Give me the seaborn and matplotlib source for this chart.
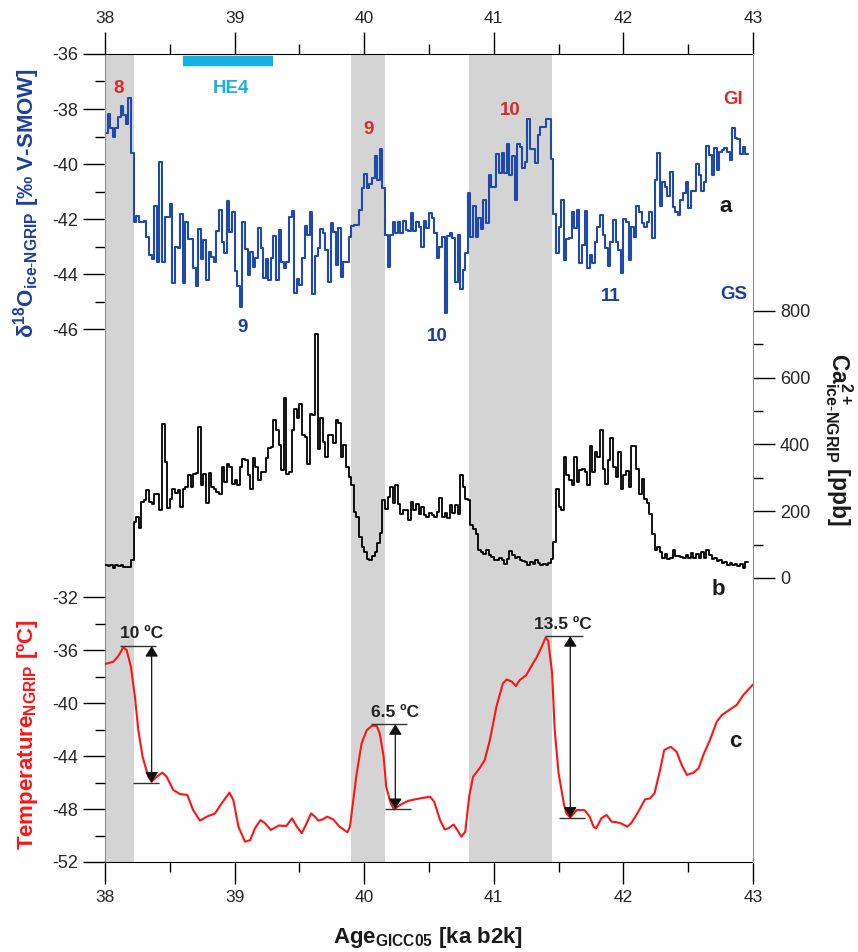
import numpy as np
import pandas as pd
import matplotlib
matplotlib.use('Agg')
import matplotlib.pyplot as plt
from matplotlib.ticker import FixedLocator, MultipleLocator
import seaborn as sns

sns.set_style('ticks')
plt.rcParams['font.family'] = ['Liberation Sans', 'DejaVu Sans']
plt.rcParams['mathtext.fontset'] = 'custom'
plt.rcParams['mathtext.rm'] = 'Liberation Sans'
plt.rcParams['mathtext.bf'] = 'Liberation Sans:bold'
plt.rcParams['mathtext.it'] = 'Liberation Sans:italic'
plt.rcParams['axes.unicode_minus'] = False

# ---- data ----
age_start = 38.0
step_ka = 0.02  # 20-yr resolution of the NGRIP records

# (a) NGRIP d18O, per-mil
d18o = [
    -38.88, -38.19, -38.70, -39.00, -38.70, -38.30, -37.88, -38.20, -38.56, -37.59,
    -39.61, -42.10, -41.88, -42.12, -42.12, -42.07, -42.64, -43.31, -43.45, -41.52,
    -43.55, -39.94, -43.55, -41.92, -41.92, -41.47, -44.32, -43.00, -43.07, -41.80,
    -44.34, -42.10, -42.73, -42.73, -43.77, -44.44, -42.36, -43.45, -42.77, -44.22,
    -43.19, -43.37, -43.55, -42.44, -41.67, -42.83, -43.25, -41.35, -42.46, -41.73,
    -43.89, -44.44, -45.19, -42.10, -43.10, -44.04, -43.19, -43.73, -43.43, -42.31,
    -43.04, -44.16, -43.45, -44.22, -43.40, -42.60, -44.22, -42.40, -43.55, -43.77,
    -43.55, -41.92, -41.70, -44.70, -44.18, -44.40, -43.43, -42.25, -42.58, -41.76,
    -44.72, -43.33, -43.04, -42.36, -42.52, -43.13, -44.28, -42.16, -42.46, -43.67,
    -42.34, -44.10, -43.55, -43.55, -42.64, -42.24, -42.22, -42.20, -41.67, -40.88,
    -40.38, -40.86, -40.74, -40.52, -39.70, -40.58, -39.45, -40.88, -42.58, -43.73,
    -42.58, -42.12, -42.52, -42.10, -42.52, -42.07, -42.40, -42.43, -41.79, -42.43,
    -42.12, -42.28, -43.03, -42.07, -42.31, -41.79, -41.97, -42.52, -43.43, -43.00,
    -42.64, -45.43, -42.61, -42.52, -42.70, -44.30, -42.58, -44.55, -43.85, -43.25,
    -41.07, -42.64, -41.52, -42.64, -41.97, -42.36, -41.31, -42.16, -40.40, -40.82,
    -40.82, -39.64, -40.34, -39.61, -40.34, -39.27, -40.40, -39.70, -41.31, -39.27,
    -39.39, -40.13, -39.91, -38.36, -39.45, -39.45, -39.97, -38.95, -38.65, -38.65,
    -38.36, -38.36, -39.82, -41.80, -43.25, -42.28, -41.31, -43.49, -42.73, -42.70,
    -41.76, -42.34, -41.67, -43.61, -42.95, -41.71, -43.77, -43.31, -43.61, -42.83,
    -42.28, -41.85, -42.58, -43.07, -43.71, -42.83, -42.04, -42.83, -43.13, -43.98,
    -42.00, -42.10, -43.49, -42.28, -42.64, -41.52, -41.76, -42.16, -42.28, -42.10,
    -41.76, -42.70, -40.58, -39.59, -41.52, -40.64, -40.82, -41.18, -40.30, -41.55,
    -41.73, -41.85, -41.31, -41.07, -40.64, -41.61, -40.98, -40.99, -40.00, -40.40,
    -40.99, -40.66, -39.35, -39.67, -40.40, -39.43, -40.22, -39.55, -39.49, -39.43,
    -39.55, -39.85, -38.70, -39.04, -39.09, -39.65, -39.37, -39.65,
]

# (b) NGRIP Ca2+, ppb
ca = [
    40, 36, 38, 31, 38, 35, 38, 33, 33, 33,
    55, 168, 183, 151, 228, 233, 263, 228, 221, 251,
    251, 203, 461, 348, 210, 238, 268, 255, 263, 213,
    268, 273, 308, 273, 311, 315, 453, 278, 313, 225,
    315, 273, 268, 258, 253, 333, 288, 343, 333, 281,
    295, 278, 333, 355, 353, 308, 268, 358, 333, 295,
    318, 318, 358, 390, 393, 473, 443, 398, 323, 538,
    313, 318, 443, 505, 478, 520, 428, 423, 343, 490,
    488, 731,
    385, 478, 408, 361, 428, 428, 405, 473, 463, 363,
    398, 333, 303, 278, 198, 183, 123, 93, 78, 58,
    53, 65, 78, 105, 135, 233, 208, 243, 273, 225,
    278, 223, 193, 205, 203, 175, 228, 203, 223, 193,
    213, 190, 183, 195, 190, 183, 198, 241, 183, 195,
    181, 218, 195, 218, 193, 308, 273, 238, 233, 158,
    148, 133, 85, 78, 73, 85, 68, 63, 53, 55,
    61, 55, 43, 58, 81, 68, 61, 63, 55, 51, 48, 38,
    48, 43, 53, 45, 38, 43, 38, 45, 58, 108,
    268, 213, 203, 363, 308, 293, 278, 361, 288, 323,
    328, 318, 278, 395, 318, 378, 363, 443, 328, 281,
    353, 418, 333, 303, 378, 268, 308, 321, 273, 395,
    395, 328, 251, 298, 238, 225, 193, 133, 83, 93,
    78, 61, 73, 58, 61, 83, 65, 65, 63, 61,
    68, 61, 75, 61, 73, 61, 78, 61, 83, 68,
    58, 61, 51, 55, 45, 48, 38, 45, 38, 43,
    35, 41, 31, 48,
]

# (c) NGRIP temperature, deg C
temp_age = [
    38.0, 38.064, 38.103, 38.141, 38.167, 38.20, 38.231, 38.257, 38.29, 38.334,
    38.36, 38.399, 38.442, 38.476, 38.527, 38.579, 38.635, 38.68, 38.733, 38.785,
    38.849, 38.90, 38.96, 38.99, 39.03, 39.08, 39.12, 39.157, 39.20, 39.235,
    39.28, 39.34, 39.40, 39.443, 39.48, 39.518, 39.556, 39.59, 39.62, 39.646,
    39.68, 39.715, 39.76, 39.81, 39.87, 39.89, 39.916, 39.942, 39.98, 40.02,
    40.06, 40.096, 40.12, 40.15, 40.17, 40.205, 40.23, 40.276, 40.34, 40.43,
    40.508, 40.54, 40.585, 40.62, 40.65, 40.69, 40.71, 40.75, 40.78, 40.81,
    40.84, 40.89, 40.93, 40.97, 41.02, 41.07, 41.10, 41.14, 41.17, 41.20,
    41.25, 41.29, 41.33, 41.37, 41.40, 41.42, 41.45, 41.47, 41.50, 41.54,
    41.56, 41.59, 41.64, 41.70, 41.74, 41.77, 41.79, 41.83, 41.87, 41.91,
    41.95, 41.98, 42.03, 42.06, 42.115, 42.167, 42.205, 42.24, 42.28, 42.315,
    42.365, 42.41, 42.45, 42.49, 42.54, 42.58, 42.617, 42.668, 42.72, 42.76,
    42.835, 42.874, 42.925, 43.0,
]
temp_val = [
    -37.06, -36.88, -36.45, -35.79, -36.00, -37.26, -39.53, -42.04, -44.05, -45.56,
    -45.94, -45.56, -45.26, -45.56, -46.57, -46.87, -46.94, -48.08, -48.88, -48.58,
    -48.33, -47.57, -46.77, -47.32, -49.34, -50.47, -50.35, -49.46, -48.83, -49.08,
    -49.58, -49.25, -49.28, -48.70, -49.33, -49.83, -49.08, -48.33, -48.58, -48.88,
    -48.78, -48.58, -48.78, -49.33, -49.76, -49.33, -47.32, -45.31, -43.05, -42.04,
    -41.72, -41.72, -42.30, -44.05, -46.32, -47.57, -48.03, -47.70, -47.38, -47.20,
    -47.07, -47.45, -48.83, -49.53, -49.46, -49.17, -49.46, -50.09, -49.71, -47.07,
    -45.56, -44.93, -44.30, -42.79, -40.28, -38.52, -38.22, -38.39, -38.72, -38.27,
    -37.89, -37.21, -36.56, -35.75, -35.05, -35.30, -37.76, -42.04, -45.31, -47.57,
    -48.33, -48.64, -48.08, -48.08, -48.58, -49.34, -49.46, -48.70, -48.45, -48.96,
    -49.00, -49.08, -49.33, -49.08, -48.21, -47.27, -47.20, -46.82, -45.19, -43.55,
    -43.30, -43.67, -44.68, -45.43, -45.26, -44.93, -43.92, -42.79, -41.41, -40.91,
    -40.40, -40.15, -39.40, -38.60,
]

# Greenland interstadials (shaded) and Heinrich event 4
gi_start = [38.0, 39.9, 40.81]
gi_end = [38.22, 40.16, 41.45]
he4_start, he4_end = 38.6, 39.3

# temperature jumps: warm peak, cold base, arrow position, label
jump_peak = [-35.7, -41.6, -34.95]
jump_base = [-46.0, -48.0, -48.65]
jump_age = [38.36, 40.24, 41.59]
jump_labels = ['10 ºC', '6.5 ºC', '13.5 ºC']

blue = '#1b3f9c'
line_blue = '#1f4aab'
red_lab = '#dc2a2a'
red_line = '#ff1414'
cyan = '#14b1e1'

# step series tables
age_grid = age_start + step_ka * np.arange(len(d18o) + 1)
d18o_df = pd.DataFrame({'age': age_grid, 'value': d18o + [d18o[-1]]})
age_grid_ca = age_start + step_ka * np.arange(len(ca) + 1)
ca_df = pd.DataFrame({'age': age_grid_ca, 'value': ca + [ca[-1]]})
temp_df = pd.DataFrame({'age': temp_age, 'value': temp_val})

fig = plt.figure(figsize=(8.58, 9.52), dpi=100)
ax = fig.add_axes([0.12238, 0.09454, 0.75524, 0.84874])
ax_ca = ax.twinx()
ax_t = ax.twinx()

# shading
for s, e in zip(gi_start, gi_end):
    ax.axvspan(s, e, color='#d4d4d4', lw=0, zorder=0)

sns.lineplot(data=d18o_df, x='age', y='value', drawstyle='steps-post', color=line_blue,
             lw=1.5, errorbar=None, ax=ax)
sns.lineplot(data=ca_df, x='age', y='value', drawstyle='steps-post', color='black',
             lw=1.3, errorbar=None, ax=ax_ca)
sns.lineplot(data=temp_df, x='age', y='value', color=red_line, lw=1.5, errorbar=None, ax=ax_t)

ax.hlines(-36.25, he4_start, he4_end, color=cyan, lw=7.5, zorder=3)

ax.set_xlim(38, 43)
ax.set_ylim(-65.38, -36)
ax_ca.set_ylim(-851, 1570)
ax_t.set_ylim(-52, 9)
for a in (ax, ax_ca, ax_t):
    a.set_xlabel('')
    a.set_ylabel('')

# spines
ax.spines['top'].set_color('black')
ax.spines['bottom'].set_color('black')
ax.spines['left'].set_color('#8c8c8c')
ax.spines['right'].set_visible(False)
for s in ['left', 'top', 'bottom']:
    ax_ca.spines[s].set_visible(False)
ax_ca.spines['right'].set_color('#8c8c8c')
for s in ax_t.spines.values():
    s.set_visible(False)

# ticks
ax.xaxis.set_major_locator(MultipleLocator(1))
ax.xaxis.set_minor_locator(MultipleLocator(0.5))
ax.tick_params(axis='x', which='both', direction='out', top=True, labeltop=True,
               bottom=True, labelbottom=True, labelsize=12.5, pad=5, color='black')
ax.tick_params(axis='x', which='major', length=15.5, width=1)
ax.tick_params(axis='x', which='minor', length=7.5, width=1)

ax.yaxis.set_major_locator(FixedLocator([-46, -44, -42, -40, -38, -36]))
ax.yaxis.set_minor_locator(FixedLocator([-45, -43, -41, -39, -37]))
ax.yaxis.tick_left()

ax_t.yaxis.tick_left()
ax_t.yaxis.set_major_locator(FixedLocator([-52, -48, -44, -40, -36, -32]))
ax_t.yaxis.set_minor_locator(FixedLocator([-50, -46, -42, -38, -34]))

ax_ca.yaxis.set_major_locator(FixedLocator([0, 200, 400, 600, 800]))
ax_ca.yaxis.set_minor_locator(FixedLocator([100, 300, 500, 700]))

for a in (ax, ax_t, ax_ca):
    a.tick_params(axis='y', which='both', direction='out', labelsize=13, pad=4, color='black')
    a.tick_params(axis='y', which='major', length=15.5, width=1)
    a.tick_params(axis='y', which='minor', length=7.5, width=1)

# temperature jump annotations
top_ext = [(38.116, 38.39), (40.05, 40.33), (41.395, 41.69)]
base_ext = [(38.218, 38.42), (40.16, 40.36), (41.505, 41.70)]
label_age = [38.285, 40.24, 41.53]
for pk, bs, xa, lab, te, be, la in zip(jump_peak, jump_base, jump_age, jump_labels,
                                       top_ext, base_ext, label_age):
    ax_t.hlines(pk, te[0], te[1], color='#333333', lw=1)
    ax_t.hlines(bs, be[0], be[1], color='#333333', lw=1)
    ax_t.annotate('', xy=(xa, bs), xytext=(xa, pk),
                  arrowprops=dict(arrowstyle='<|-|>,head_length=0.45,head_width=0.28',
                                  color='#111111', lw=0.9, mutation_scale=14,
                                  shrinkA=0, shrinkB=0))
    ax_t.text(la, pk + 0.35, lab, ha='center', va='bottom', fontsize=12.5,
              fontweight='bold', color='#222222')

# event labels
kw = dict(ha='center', va='center', fontsize=13.5, fontweight='bold')
ax.text(38.108, -37.24, '8', color=red_lab, **kw)
ax.text(40.03, -38.76, '9', color=red_lab, **kw)
ax.text(41.125, -38.04, '10', color=red_lab, **kw)
ax.text(42.85, -37.67, 'GI', color=red_lab, **kw)
ax.text(39.065, -45.93, '9', color=blue, **kw)
ax.text(40.56, -46.29, '10', color=blue, **kw)
ax.text(41.905, -44.8, '11', color=blue, **kw)
ax.text(42.85, -44.73, 'GS', color=blue, **kw)
ax.text(38.972, -37.24, 'HE4', color=cyan, **kw)
ax.text(42.79, -41.53, 'a', ha='center', va='center', fontsize=16, fontweight='bold', color='#1a1a1a')
ax_ca.text(42.73, -36, 'b', ha='center', va='center', fontsize=16, fontweight='bold', color='#1a1a1a')
ax_t.text(42.86, -42.94, 'c', ha='center', va='center', fontsize=16, fontweight='bold', color='#1a1a1a')

# axis titles
fig.text(0.031, 0.787, r'δ$^{\mathbf{18}}$O$_{\mathbf{ice\text{-}NGRIP}}$ [‰ V-SMOW]',
         rotation=90, ha='center', va='center', color=blue, fontsize=16, fontweight='bold')
fig.text(0.032, 0.228, r'Temperature$_{\mathbf{NGRIP}}$ [ºC]',
         rotation=90, ha='center', va='center', color=red_line, fontsize=16, fontweight='bold')
fig.text(0.978, 0.538, r'Ca$^{\mathbf{2+}}_{\mathbf{ice\text{-}NGRIP}}$ [ppb]',
         rotation=-90, ha='center', va='center', color='#1a1a1a', fontsize=16.5, fontweight='bold')
fig.text(0.499, 0.015, r'Age$_{\mathbf{GICC05}}$ [ka b2k]',
         ha='center', va='center', color='#1a1a1a', fontsize=16, fontweight='bold')

fig.savefig('out.png', dpi=100)
